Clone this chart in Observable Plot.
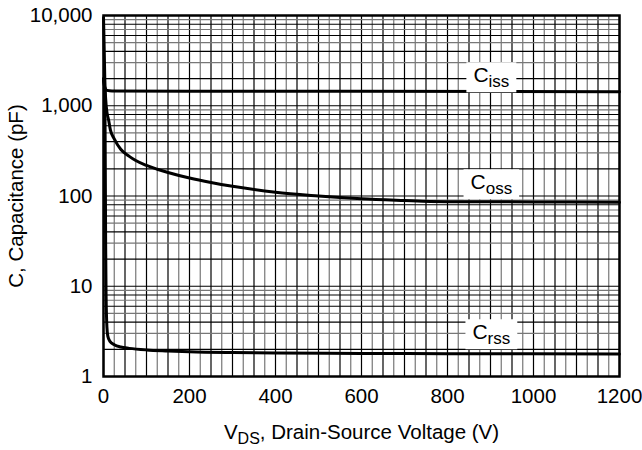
<!DOCTYPE html>
<html><head><meta charset="utf-8">
<script src="https://cdn.jsdelivr.net/npm/d3@7"></script>
<script src="https://cdn.jsdelivr.net/npm/@observablehq/plot@0.6"></script>
<style>body{margin:0;background:#fff;} svg{font-family:"Liberation Sans",Arial,Helvetica,sans-serif;}</style>
</head><body><div id="chart"></div>
<script>
// Data
const cissV = [0, 3, 8, 20, 200, 600, 1200];
const cissC = [1900, 1600, 1480, 1460, 1450, 1445, 1430];
const cossV = [0, 1, 2, 3, 5, 8, 12, 16, 25, 40, 60, 75, 100, 125, 150, 200, 250, 300, 400, 500, 550, 600, 700, 760, 800, 1000, 1200];
const cossC = [9500, 6000, 3500, 2000, 1200, 850, 690, 540, 430, 330, 275, 247, 218, 198, 182, 158, 141, 128, 110, 100, 96, 93, 89, 87, 86.5, 86, 85];
const crssV = [0, 3, 4, 5, 6, 8, 10, 15, 25, 40, 60, 100, 150, 200, 300, 400, 600, 800, 1200];
const crssC = [2000, 1500, 300, 30, 8, 3.5, 2.8, 2.45, 2.25, 2.12, 2.05, 1.97, 1.92, 1.88, 1.84, 1.82, 1.8, 1.79, 1.78];

const xTicks = [0, 200, 400, 600, 800, 1000, 1200];
const yTicks = [1, 10, 100, 1000, 10000];
const labelNames = ["Ciss", "Coss", "Crss"];
const labelV = [902, 902, 902];
const labelC = [2160, 141, 3.07];
const xTitle = "VDS, Drain-Source Voltage (V)";
const yTitle = "C, Capacitance (pF)";

const toRows = (vs, cs) => vs.map((v, i) => ({v, c: cs[i]}));
const series = [toRows(cissV, cissC), toRows(cossV, cossC), toRows(crssV, crssC)];
const labels = labelNames.map((n, i) => ({n, v: labelV[i], c: labelC[i]}));

const xGrid = d3.range(0, 1201, 25);
const yGrid = [];
for (let d = 1; d < 10000; d *= 10) for (let m = 1; m <= 9; m++) yGrid.push({y: d * m, m});

const FS = 20.5;
const plot = Plot.plot({
  width: 642, height: 450,
  marginLeft: 103, marginRight: 23, marginTop: 15, marginBottom: 74,
  style: {fontSize: FS + "px", fontFamily: "Liberation Sans, Arial, sans-serif", color: "#000", background: "#fff"},
  x: {domain: [0, 1200]},
  y: {type: "log", domain: [1, 10000]},
  marks: [
    Plot.ruleX(xGrid, {x: d => d, stroke: d => (d % 50 === 0 ? "#000" : "#777"), strokeWidth: 1.2}),
    Plot.ruleY(yGrid, {y: "y", stroke: d => (d.m % 2 === 1 && d.m !== 1 ? "#777" : "#000"), strokeWidth: 1.2}),
    ...series.map(s => Plot.line(s, {x: "v", y: "c", stroke: "#000", strokeWidth: 3, curve: "monotone-x"})),
    Plot.text(labels, {x: "v", y: "c", text: "n", fontSize: 21, fill: "#000", className: "clabel"}),
    Plot.frame({stroke: "#000", strokeWidth: 2.5}),
    Plot.axisX(xTicks, {tickSize: 0, tickPadding: 12, tickFormat: d => String(d), label: null, fontSize: FS}),
    Plot.axisY(yTicks, {tickSize: 0, tickPadding: 11, tickFormat: d3.format(","), label: null, fontSize: FS}),
    Plot.text([xTitle], {frameAnchor: "bottom", dy: 62, text: d => d, fontSize: FS, className: "xtitle"}),
    Plot.text([yTitle], {frameAnchor: "left", textAnchor: "middle", dx: -87, rotate: -90, text: d => d, fontSize: FS})
  ]
});
document.getElementById("chart").appendChild(plot);

// subscripts
function subscript(textEl, main, sub, rest, subSize) {
  textEl.textContent = "";
  const ns = "http://www.w3.org/2000/svg";
  const t1 = document.createElementNS(ns, "tspan"); t1.textContent = main; textEl.appendChild(t1);
  const t2 = document.createElementNS(ns, "tspan"); t2.textContent = sub;
  t2.setAttribute("dy", "5"); t2.setAttribute("font-size", subSize); textEl.appendChild(t2);
  if (rest) {
    const t3 = document.createElementNS(ns, "tspan"); t3.textContent = rest; t3.setAttribute("dy", "-5"); textEl.appendChild(t3);
  }
}
d3.select(plot).selectAll("text").each(function() {
  const s = this.textContent;
  if (s === xTitle) subscript(this, "V", "DS", ", Drain-Source Voltage (V)", 16);
  else if (labelNames.includes(s)) subscript(this, "C", s.slice(1), null, 17);
});
// white boxes behind curve labels
d3.select(plot).selectAll("g.clabel text").each(function() {
  const b = this.getBBox();
  const r = document.createElementNS("http://www.w3.org/2000/svg", "rect");
  r.setAttribute("x", b.x - 7); r.setAttribute("y", b.y - 1);
  r.setAttribute("width", b.width + 14); r.setAttribute("height", b.height + 2);
  r.setAttribute("fill", "#fff");
  const tr = this.getAttribute("transform");
  if (tr) r.setAttribute("transform", tr);
  this.parentNode.insertBefore(r, this);
});
</script>
</body></html>
